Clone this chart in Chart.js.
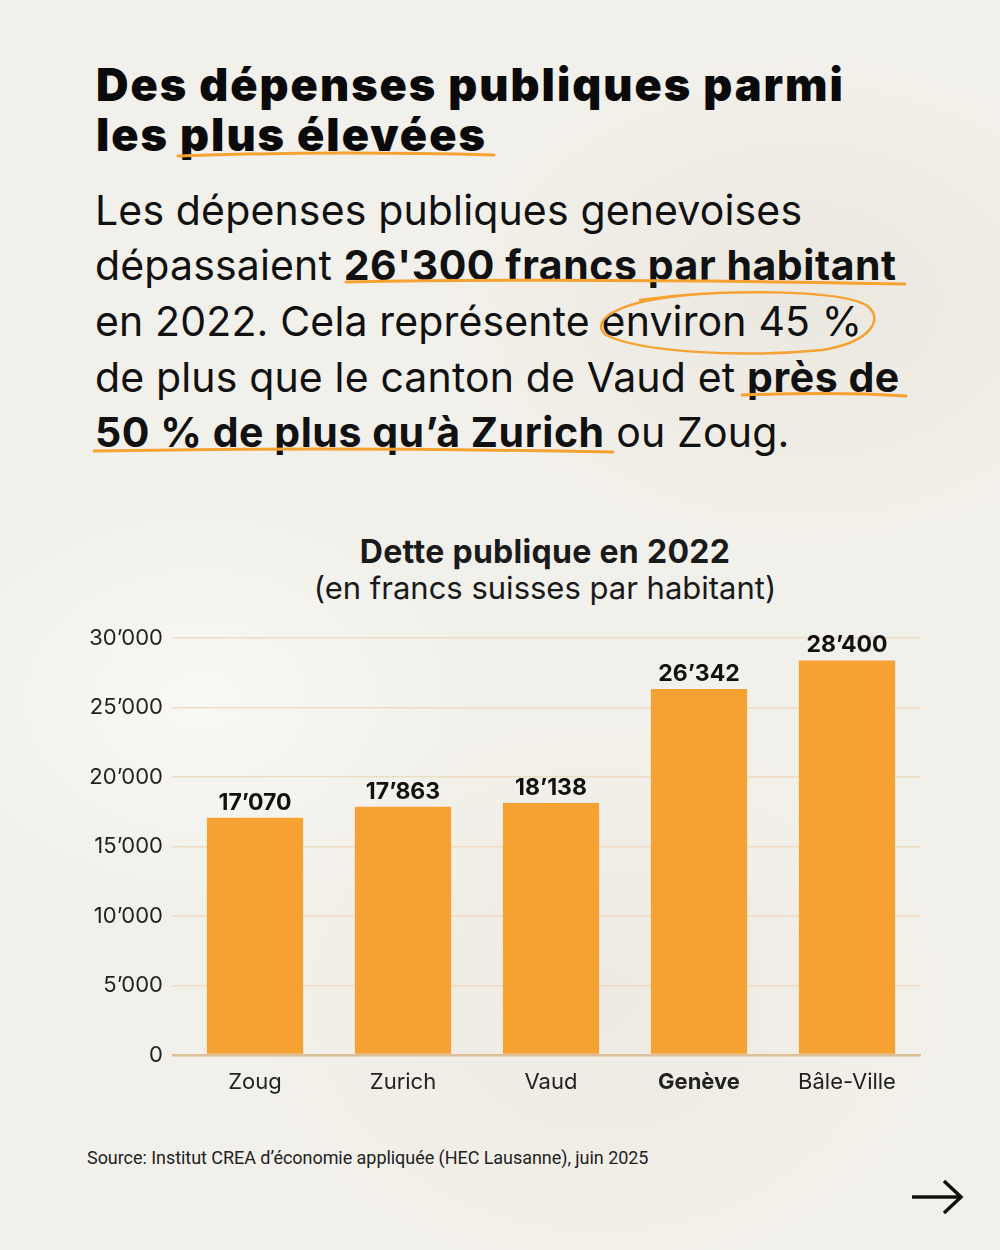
<!DOCTYPE html>
<html><head><meta charset="utf-8">
<script src="https://cdn.jsdelivr.net/npm/chart.js@4.4.1/dist/chart.umd.min.js"></script>
<style>
html,body{margin:0;padding:0;}
body{width:1000px;height:1250px;position:relative;overflow:hidden;font-family:Inter,"Noto Sans",sans-serif;color:#111;
background:
 radial-gradient(ellipse 400px 300px at 200px 700px, rgba(255,255,255,0.55), rgba(255,255,255,0) 70%),
 radial-gradient(ellipse 500px 350px at 800px 300px, rgba(230,226,216,0.6), rgba(230,226,216,0) 70%),
 radial-gradient(ellipse 500px 400px at 600px 1000px, rgba(236,232,224,0.7), rgba(236,232,224,0) 70%),
 #f2f0ea;}
.t{position:absolute;left:96px;font-weight:900;font-size:45px;letter-spacing:2.0px;line-height:50px;white-space:nowrap;color:#0a0a0a;}
.p{position:absolute;left:95px;font-size:41px;font-weight:400;line-height:56px;white-space:nowrap;letter-spacing:0.15px;color:#111;}
.p b{font-weight:700;letter-spacing:0.55px;}
.ct{position:absolute;left:0;width:1090px;text-align:center;white-space:nowrap;color:#1a1a1a;}
#src{position:absolute;left:87px;top:1147px;font-family:Roboto,sans-serif;font-size:18px;color:#222;letter-spacing:-0.05px;}
#wrap{position:absolute;left:0;top:616px;width:1000px;height:520px;}
svg.ov{position:absolute;left:0;top:0;width:1000px;height:1250px;pointer-events:none;}
</style></head>
<body>
<div class="t" style="top:60px">Des dépenses publiques parmi</div>
<div class="t" style="top:110px">les plus élevées</div>

<div class="p" style="top:182px">Les dépenses publiques genevoises</div>
<div class="p" style="top:237px">dépassaient <b>26'300 francs par habitant</b></div>
<div class="p" style="top:293px">en 2022. Cela représente environ 45 %</div>
<div class="p" style="top:349px">de plus que le canton de Vaud et <b>près de</b></div>
<div class="p" style="top:404px"><b>50 % de plus qu’à Zurich</b> ou Zoug.</div>

<div class="ct" style="top:532px;font-size:32px;font-weight:700;letter-spacing:0.3px;">Dette publique en 2022</div>
<div class="ct" style="top:569px;font-size:31px;font-weight:400;">(en francs suisses par habitant)</div>

<svg class="ov" viewBox="0 0 1000 1250">
 <g fill="none" stroke="#f5a233" stroke-linecap="round">
  <path d="M178 156 C260 153 380 152 494 155" stroke-width="3"/>
  <path d="M346 282 C500 279 700 280 905 284" stroke-width="3"/>
  <path d="M640 300 C720 288 840 290 866 305 C885 318 872 342 822 350 C740 358 640 352 606 335 C590 322 612 300 700 294" stroke-width="2.5"/>
  <path d="M742 395 C800 393 860 393 906 396" stroke-width="3"/>
  <path d="M94 451 C250 448 450 449 613 452" stroke-width="3"/>
 </g>
 <g fill="none" stroke="#111" stroke-width="3.5" stroke-linecap="butt">
  <path d="M912 1197 L960 1197"/>
  <path d="M944 1181 L961 1197 L944 1213"/>
 </g>
</svg>

<div id="wrap"><canvas id="c"></canvas></div>
<div id="src">Source: Institut CREA d’économie appliquée (HEC Lausanne), juin 2025</div>

<script>
const categories = ["Zoug", "Zurich", "Vaud", "Genève", "Bâle-Ville"];
const values = [17070, 17863, 18138, 26342, 28400];
const valueLabels = ["17’070", "17’863", "18’138", "26’342", "28’400"];
const yTicks = [0, 5000, 10000, 15000, 20000, 25000, 30000];
const yTickLabels = ["0", "5’000", "10’000", "15’000", "20’000", "25’000", "30’000"];
const highlightIndex = 3;

const valueLabelPlugin = {
  id: 'valueLabels',
  afterDatasetsDraw(chart) {
    const ctx = chart.ctx;
    const meta = chart.getDatasetMeta(0);
    ctx.save();
    ctx.font = '700 23px Inter, sans-serif';
    ctx.fillStyle = '#111';
    ctx.textAlign = 'center';
    ctx.textBaseline = 'alphabetic';
    meta.data.forEach((bar, i) => {
      ctx.fillText(valueLabels[i], bar.x, bar.y - 8);
    });
    ctx.restore();
  }
};

new Chart(document.getElementById('c'), {
  type: 'bar',
  data: {
    labels: categories,
    datasets: [{
      data: values,
      backgroundColor: '#f5a233',
      borderWidth: 0,
      barPercentage: 0.65,
      categoryPercentage: 1.0
    }]
  },
  options: {
    responsive: true,
    maintainAspectRatio: false,
    animation: false,
    devicePixelRatio: 1,
    layout: { padding: { top: 13, right: 79, left: 0, bottom: 0 } },
    plugins: { legend: { display: false }, tooltip: { enabled: false } },
    scales: {
      x: {
        grid: { display: false, drawTicks: false },
        border: { display: false },
        ticks: {
          padding: 14,
          color: '#222',
          font: (c) => c.index === highlightIndex
            ? { family: 'Inter, sans-serif', size: 22, weight: '700' }
            : { family: 'Inter, sans-serif', size: 22, weight: '400' }
        },
        afterFit: (s) => { s.height = 81; }
      },
      y: {
        min: 0, max: 30000,
        afterBuildTicks: (s) => { s.ticks = yTicks.map(v => ({ value: v })); },
        afterFit: (s) => { s.width = 181; },
        border: { display: false },
        grid: {
          drawTicks: true,
          tickLength: 9,
          lineWidth: (c) => c.tick && c.tick.value === 0 ? 2.5 : 1.5,
          color: (c) => c.tick && c.tick.value === 0 ? '#dcc09c' : '#f0dcc2'
        },
        ticks: {
          padding: 9,
          color: '#222',
          font: { family: 'Inter, sans-serif', size: 22, weight: '400' },
          callback: (v) => yTickLabels[yTicks.indexOf(v)]
        }
      }
    }
  },
  plugins: [valueLabelPlugin]
});
</script>
</body></html>
